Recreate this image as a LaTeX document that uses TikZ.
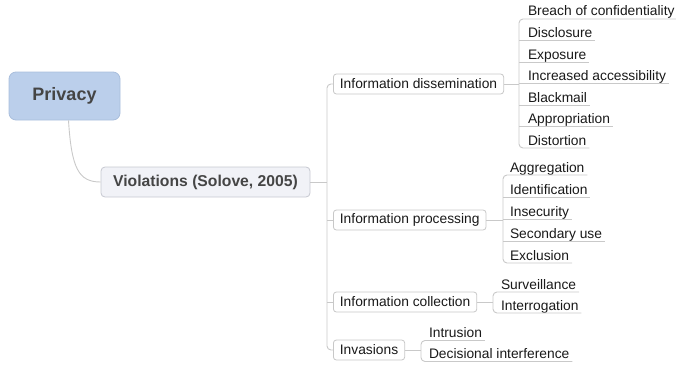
\documentclass[tikz,border=0pt]{standalone}
\usepackage{fontspec}
\setmainfont{Liberation Sans}
\usetikzlibrary{calc}
\definecolor{linegray}{HTML}{C9C9C9}
\definecolor{rootfill}{HTML}{BBCFEB}
\definecolor{rootdraw}{HTML}{A9BEDC}
\definecolor{mainfill}{HTML}{F1F2F7}
\definecolor{maindraw}{HTML}{C6C8D0}
\definecolor{subdraw}{HTML}{C8C8C8}
\definecolor{darktext}{HTML}{454545}
\begin{document}
\begin{tikzpicture}[x=1pt,y=-1pt,
  conn/.style={draw=linegray, line width=0.9pt, rounded corners=4pt},
  rootbox/.style={draw=rootdraw, fill=rootfill, line width=0.8pt, rounded corners=7pt,
    minimum width=111pt, minimum height=48pt, inner sep=0pt,
    font=\fontsize{18}{20}\selectfont\bfseries, text=darktext},
  mainbox/.style={draw=maindraw, fill=mainfill, line width=0.8pt, rounded corners=4pt,
    minimum width=209pt, minimum height=30pt, inner sep=0pt,
    font=\fontsize{15.7}{18}\selectfont\bfseries, text=darktext},
  subbox/.style={draw=subdraw, fill=white, line width=0.8pt, rounded corners=3pt,
    minimum height=20pt, inner xsep=6.5pt, inner ysep=0pt, anchor=west,
    font=\fontsize{13.8}{16}\selectfont, text=black!90},
  leaf/.style={anchor=base west, inner sep=0pt, outer sep=0pt,
    font=\fontsize{13.8}{16}\selectfont, text=black!90}
]
\useasboundingbox (0,0) rectangle (676,364);

% root and main
\node[rootbox] (privacy) at (64.5,96) {Privacy};
\node[mainbox] (viol) at (205.5,182) {Violations (Solove, 2005)};

% level 2
\node[subbox] (dis) at (333,84) {Information dissemination};
\node[subbox] (proc) at (333,220) {Information processing};
\node[subbox] (col) at (333,302) {Information collection};
\node[subbox] (inv) at (333,350) {Invasions};

% root connector
\draw[conn, rounded corners=0pt] ($(privacy.south)+(4,0)$) .. controls +(3,48) and +(-22,0) .. (viol.west);

% trunk
\coordinate (trunk) at ($(dis.west)+(-6,0)$);
\draw[conn] (dis.west) -- (trunk) |- (inv.west);
\draw[conn, rounded corners=0pt] (viol.east) -- (viol.east -| trunk);
\draw[conn, rounded corners=0pt] (proc.west) -- (proc.west -| trunk);
\draw[conn, rounded corners=0pt] (col.west) -- (col.west -| trunk);

% dissemination leaves
\node[leaf] (d1) at (528,16) {Breach of confidentiality};
\node[leaf] (d2) at (528,37.5) {Disclosure};
\node[leaf] (d3) at (528,59) {Exposure};
\node[leaf] (d4) at (528,80.5) {Increased accessibility};
\node[leaf] (d5) at (528,102) {Blackmail};
\node[leaf] (d6) at (528,123.5) {Appropriation};
\node[leaf] (d7) at (528,145) {Distortion};
\coordinate (dv) at ($(d1.base west)+(-9,3)$);
\draw[conn] ($(d1.base east)+(3,3)$) -- (dv) -- ($(d7.base west)+(-9,3)$) -- ($(d7.base east)+(3,3)$);
\foreach \n in {d2,d3,d4,d5,d6}{
  \draw[conn, rounded corners=0pt] ($(\n.base west)+(-9,3)$) -- ($(\n.base east)+(3,3)$);
}
\draw[conn, rounded corners=0pt] (dis.east) -- (dis.east -| dv);

% processing leaves
\node[leaf] (p1) at (510,172) {Aggregation};
\node[leaf] (p2) at (510,194) {Identification};
\node[leaf] (p3) at (510,216) {Insecurity};
\node[leaf] (p4) at (510,238) {Secondary use};
\node[leaf] (p5) at (510,260) {Exclusion};
\coordinate (pv) at ($(p1.base west)+(-7,3)$);
\draw[conn] ($(p1.base east)+(3,3)$) -- (pv) -- ($(p5.base west)+(-7,3)$) -- ($(p5.base east)+(3,3)$);
\foreach \n in {p2,p3,p4}{
  \draw[conn, rounded corners=0pt] ($(\n.base west)+(-7,3)$) -- ($(\n.base east)+(3,3)$);
}
\draw[conn, rounded corners=0pt] (proc.east) -- (proc.east -| pv);

% collection leaves
\node[leaf] (c1) at (501,289) {Surveillance};
\node[leaf] (c2) at (501,310) {Interrogation};
\coordinate (cv) at ($(c1.base west)+(-8,3)$);
\draw[conn] ($(c1.base east)+(3,3)$) -- (cv) -- ($(c2.base west)+(-8,3)$) -- ($(c2.base east)+(3,3)$);
\draw[conn, rounded corners=0pt] (col.east) -- (col.east -| cv);

% invasions leaves
\node[leaf] (i1) at (429,337.5) {Intrusion};
\node[leaf] (i2) at (429,358.5) {Decisional interference};
\coordinate (iv) at ($(i1.base west)+(-8,3)$);
\draw[conn] ($(i1.base east)+(3,3)$) -- (iv) -- ($(i2.base west)+(-8,3)$) -- ($(i2.base east)+(3,3)$);
\draw[conn, rounded corners=0pt] (inv.east) -- (inv.east -| iv);
\end{tikzpicture}
\end{document}
